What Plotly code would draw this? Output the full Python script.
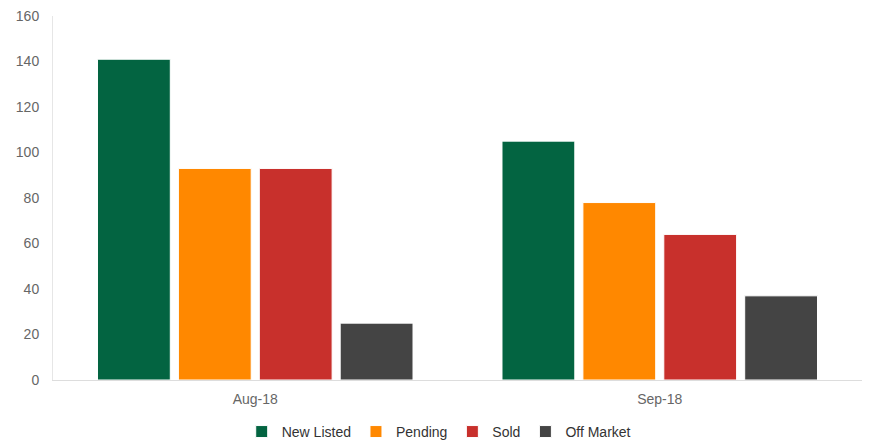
import plotly.graph_objects as go

categories = ["Aug-18", "Sep-18"]
new_listed = [141, 105]
pending = [93, 78]
sold = [93, 64]
off_market = [25, 37]

series = [
    ("New Listed", new_listed, "#036441"),
    ("Pending", pending, "#FF8800"),
    ("Sold", sold, "#C8302C"),
    ("Off Market", off_market, "#444444"),
]

fig = go.Figure()
for name, vals, color in series:
    fig.add_trace(go.Bar(
        x=categories, y=vals, name=name,
        marker=dict(color=color, line=dict(color="white", width=1)),
    ))

fig.update_layout(
    width=879, height=443,
    margin=dict(l=45, r=25, t=8, b=71, autoexpand=False),
    barmode="group", bargap=0.2, bargroupgap=0.1,
    plot_bgcolor="white", paper_bgcolor="white",
    font=dict(family="Liberation Sans, Arial, sans-serif", size=14, color="#666666"),
    showlegend=True,
    legend=dict(orientation="h", x=0.49, xanchor="center", xref="container",
                y=0.043, yanchor="middle", yref="container",
                font=dict(size=14, color="#333333"), itemwidth=30),
    xaxis=dict(showline=True, linecolor="#dddddd", linewidth=1, ticks="",
               tickfont=dict(size=14, color="#666666"), ticklabelstandoff=6),
    yaxis=dict(range=[0, 160], dtick=20, showgrid=False, showline=True,
               linecolor="#e6e6e6", linewidth=1, zeroline=False,
               tickfont=dict(size=14, color="#666666"), ticklabelstandoff=10,
               ticklabeloverflow="allow"),
)

fig.write_html("out.html")
